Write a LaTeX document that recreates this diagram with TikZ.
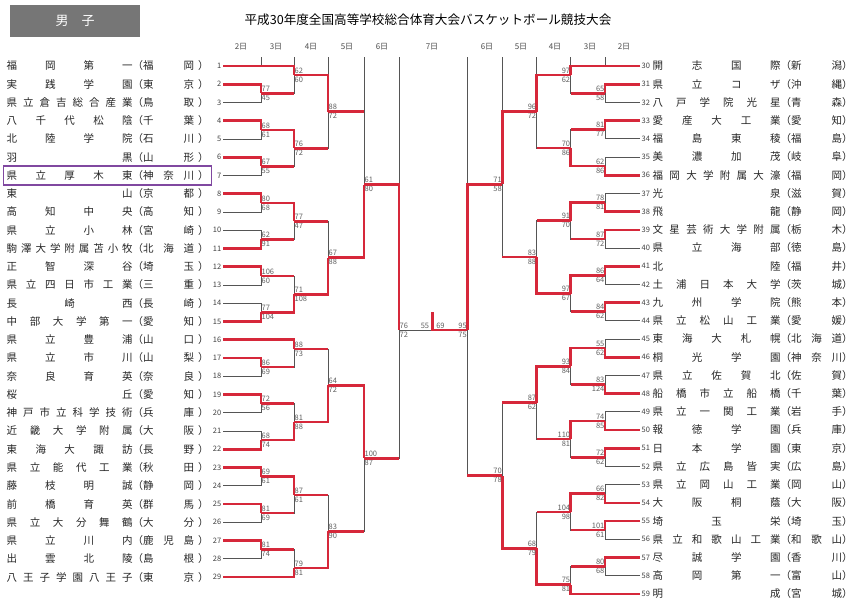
\documentclass[tikz,border=0pt]{standalone}
\usepackage{fontspec}
\setmainfont{Noto Sans CJK JP}
\usetikzlibrary{calc}
\definecolor{bred}{RGB}{214,40,58}
\definecolor{bgray}{RGB}{85,85,85}
\definecolor{sgray}{RGB}{95,95,95}
\definecolor{boxgray}{RGB}{118,118,118}
\definecolor{boxviolet}{RGB}{128,72,160}
\def\spreadx#1#2\endspread{#1\ifx\relax#2\relax\else\hfill\spreadx#2\endspread\fi}
\tikzset{
 gline/.style={draw=bgray, line width=0.8pt},
 rline/.style={draw=bred, line width=2.6pt},
 tname/.style={anchor=west, inner sep=0pt, font=\fontsize{10.5}{11}\selectfont, text=black!85},
 num/.style={inner sep=0pt, font=\fontsize{7.5}{8}\selectfont, text=black!75},
 score/.style={inner sep=0.4pt, font=\fontsize{7.5}{8}\selectfont, text=sgray},
 datel/.style={inner sep=0pt, font=\fontsize{8}{8}\selectfont, text=black!70},
}
\newcommand\lteam[4]{%
  \node[tname] (ln#1) at (6.5,#2) {\makebox[126pt]{\spreadx#3\endspread}（\makebox[51pt]{\spreadx#4\endspread}\hspace{4pt}）};
  \node[num, anchor=east] (lno#1) at (221.5,#2) {#1};
  \coordinate (t#1) at (223,#2);
}
\newcommand\rteam[4]{%
  \node[num, anchor=west] (rno#1) at (641.5,#2) {#1};
  \node[tname] (rn#1) at (652.5,#2) {\makebox[128pt]{\spreadx#3\endspread}（\makebox[51pt]{\spreadx#4\endspread}）};
  \coordinate (t#1) at (640,#2);
}
\newcommand\mt[9]{%
 \draw[gline] (#2) -- (#2 -| #1) -- (#3 -| #1) -- (#3);
 \ifnum#6=1
  \draw[rline] (#2) -- (#2 -| #1) -- (#1);
  \if m#5 \draw[rline] (#3) -- (#3 -| #1);\fi
 \else
  \draw[rline] (#3) -- (#3 -| #1) -- (#1);
  \if m#4 \draw[rline] (#2) -- (#2 -| #1);\fi
 \fi
 \if l#7
  \node[score, anchor=south west, yshift=1.2pt] (#1s1) at (#1) {#8};
  \node[score, anchor=north west, yshift=-1.2pt] (#1s2) at (#1) {#9};
 \else
  \node[score, anchor=south east, yshift=1.2pt] (#1s1) at (#1) {#8};
  \node[score, anchor=north east, yshift=-1.2pt] (#1s2) at (#1) {#9};
 \fi
}
\begin{document}
\begin{tikzpicture}[x=1pt,y=-1pt]
\useasboundingbox (0,0) rectangle (854,598);
\fill[white] (0,0) rectangle (854,598);
% header
\node[fill=boxgray, minimum width=130pt, minimum height=32pt, inner sep=0pt, text=white, font=\fontsize{13}{13}\selectfont] (sexbox) at (75,21) {男\hspace{1em}子};
\node[inner sep=0pt, font=\fontsize{12.6}{13}\selectfont] (title) at (428,20) {平成30年度全国高等学校総合体育大会バスケットボール競技大会};
\foreach \x/\t [count=\i] in {241/2日,276/3日,311/4日,347/5日,382/6日,432/7日,487/6日,521/5日,555/4日,590/3日,624/2日}
  \node[datel] (date\i) at (\x,47) {\t};
% teams left
\lteam{1}{66}{福岡第一}{福岡}
\lteam{2}{84.25}{実践学園}{東京}
\lteam{3}{102.5}{県立倉吉総合産業}{鳥取}
\lteam{4}{120.75}{八千代松陰}{千葉}
\lteam{5}{139}{北陸学院}{石川}
\lteam{6}{157.25}{羽黒}{山形}
\lteam{7}{175.5}{県立厚木東}{神奈川}
\lteam{8}{193.75}{東山}{京都}
\lteam{9}{212}{高知中央}{高知}
\lteam{10}{230.25}{県立小林}{宮崎}
\lteam{11}{248.5}{駒澤大学附属苫小牧}{北海道}
\lteam{12}{266.75}{正智深谷}{埼玉}
\lteam{13}{285}{県立四日市工業}{三重}
\lteam{14}{303.25}{長崎西}{長崎}
\lteam{15}{321.5}{中部大学第一}{愛知}
\lteam{16}{339.75}{県立豊浦}{山口}
\lteam{17}{358}{県立市川}{山梨}
\lteam{18}{376.25}{奈良育英}{奈良}
\lteam{19}{394.5}{桜丘}{愛知}
\lteam{20}{412.75}{神戸市立科学技術}{兵庫}
\lteam{21}{431}{近畿大学附属}{大阪}
\lteam{22}{449.25}{東海大諏訪}{長野}
\lteam{23}{467.5}{県立能代工業}{秋田}
\lteam{24}{485.75}{藤枝明誠}{静岡}
\lteam{25}{504}{前橋育英}{群馬}
\lteam{26}{522.25}{県立大分舞鶴}{大分}
\lteam{27}{540.5}{県立川内}{鹿児島}
\lteam{28}{558.75}{出雲北陵}{島根}
\lteam{29}{577}{八王子学園八王子}{東京}
% teams right
\rteam{30}{66}{開志国際}{新潟}
\rteam{31}{84.2}{県立コザ}{沖縄}
\rteam{32}{102.4}{八戸学院光星}{青森}
\rteam{33}{120.6}{愛産大工業}{愛知}
\rteam{34}{138.8}{福島東稜}{福島}
\rteam{35}{157}{美濃加茂}{岐阜}
\rteam{36}{175.2}{福岡大学附属大濠}{福岡}
\rteam{37}{193.4}{光泉}{滋賀}
\rteam{38}{211.6}{飛龍}{静岡}
\rteam{39}{229.8}{文星芸術大学附属}{栃木}
\rteam{40}{248}{県立海部}{徳島}
\rteam{41}{266.2}{北陸}{福井}
\rteam{42}{284.4}{土浦日本大学}{茨城}
\rteam{43}{302.6}{九州学院}{熊本}
\rteam{44}{320.8}{県立松山工業}{愛媛}
\rteam{45}{339}{東海大札幌}{北海道}
\rteam{46}{357.2}{桐光学園}{神奈川}
\rteam{47}{375.4}{県立佐賀北}{佐賀}
\rteam{48}{393.6}{船橋市立船橋}{千葉}
\rteam{49}{411.8}{県立一関工業}{岩手}
\rteam{50}{430}{報徳学園}{兵庫}
\rteam{51}{448.2}{日本学園}{東京}
\rteam{52}{466.4}{県立広島皆実}{広島}
\rteam{53}{484.6}{県立岡山工業}{岡山}
\rteam{54}{502.8}{大阪桐蔭}{大阪}
\rteam{55}{521}{埼玉栄}{埼玉}
\rteam{56}{539.2}{県立和歌山工業}{和歌山}
\rteam{57}{557.4}{尽誠学園}{香川}
\rteam{58}{575.6}{高岡第一}{富山}
\rteam{59}{593.8}{明成}{宮城}
% highlight box
\draw[boxviolet, line width=1.2pt] (3.5,166) rectangle (211.5,185);
% match points left
\coordinate (A23) at (261,93.4);
\coordinate (A45) at (261,129.9);
\coordinate (A67) at (261,166.4);
\coordinate (A89) at (261,202.9);
\coordinate (A1011) at (261,239.4);
\coordinate (A1213) at (261,275.9);
\coordinate (A1415) at (261,312.4);
\coordinate (A1718) at (261,367.1);
\coordinate (A1920) at (261,403.6);
\coordinate (A2122) at (261,440.1);
\coordinate (A2324) at (261,476.6);
\coordinate (A2526) at (261,513.1);
\coordinate (A2728) at (261,549.6);
\coordinate (B1) at (294,75.1);
\coordinate (B47) at (294,148.2);
\coordinate (B811) at (294,221.2);
\coordinate (B1215) at (294,294.2);
\coordinate (B16) at (294,348.9);
\coordinate (B1922) at (294,421.9);
\coordinate (B2326) at (294,494.9);
\coordinate (B29) at (294,567.9);
\coordinate (C17) at (328,111.7);
\coordinate (C815) at (328,257.7);
\coordinate (C1622) at (328,385.4);
\coordinate (C2329) at (328,531.4);
\coordinate (D115) at (364,184.7);
\coordinate (D1629) at (364,458.4);
\coordinate (EL) at (399,330);
% match points right
\coordinate (A3132) at (605,93.3);
\coordinate (A3334) at (605,129.7);
\coordinate (A3536) at (605,166.1);
\coordinate (A3738) at (605,202.5);
\coordinate (A3940) at (605,238.9);
\coordinate (A4142) at (605,275.3);
\coordinate (A4344) at (605,311.7);
\coordinate (A4546) at (605,348.1);
\coordinate (A4748) at (605,384.5);
\coordinate (A4950) at (605,420.9);
\coordinate (A5152) at (605,457.3);
\coordinate (A5354) at (605,493.7);
\coordinate (A5556) at (605,530.1);
\coordinate (A5758) at (605,566.5);
\coordinate (B30) at (570.7,75.1);
\coordinate (B3336) at (570.7,147.9);
\coordinate (B3740) at (570.7,220.7);
\coordinate (B4144) at (570.7,293.5);
\coordinate (B4548) at (570.7,366.3);
\coordinate (B4952) at (570.7,439.1);
\coordinate (B5356) at (570.7,511.9);
\coordinate (B59) at (570.7,584.7);
\coordinate (C3036) at (536.7,111.5);
\coordinate (C3744) at (536.7,257.1);
\coordinate (C4552) at (536.7,402.7);
\coordinate (C5359) at (536.7,548.3);
\coordinate (D3044) at (502.3,184.3);
\coordinate (D4559) at (502.3,475.5);
\coordinate (ER) at (467.3,330);
\coordinate (F) at (432.7,330);
\coordinate (Fup) at (432.7,312);
% ticks
\foreach \n/\x in {k2l/261,k3l/294,k4l/328,k5l/364,k6l/399,k2r/605,k3r/570.7,k4r/536.7,k5r/502.3,k6r/467.3}
  \coordinate (\n) at (\x,57);
\draw[gline] (k2l) -- (k2l |- t1);
\draw[gline] (k3l) -- (k3l |- t1);
\draw[gline] (k4l) -- (k4l |- B1);
\draw[gline] (k5l) -- (k5l |- C17);
\draw[gline] (k6l) -- (k6l |- D115);
\draw[gline] (k2r) -- (k2r |- t30);
\draw[gline] (k3r) -- (k3r |- t30);
\draw[gline] (k4r) -- (k4r |- B30);
\draw[gline] (k5r) -- (k5r |- C3036);
\draw[gline] (k6r) -- (k6r |- D3044);
% left bracket
\mt{A23}{t2}{t3}{t}{t}{1}{l}{77}{45}
\mt{A45}{t4}{t5}{t}{t}{1}{l}{68}{61}
\mt{A67}{t6}{t7}{t}{t}{1}{l}{67}{55}
\mt{A89}{t8}{t9}{t}{t}{1}{l}{80}{68}
\mt{A1011}{t10}{t11}{t}{t}{2}{l}{62}{91}
\mt{A1213}{t12}{t13}{t}{t}{1}{l}{106}{60}
\mt{A1415}{t14}{t15}{t}{t}{2}{l}{77}{104}
\mt{A1718}{t17}{t18}{t}{t}{1}{l}{86}{69}
\mt{A1920}{t19}{t20}{t}{t}{1}{l}{72}{56}
\mt{A2122}{t21}{t22}{t}{t}{2}{l}{68}{74}
\mt{A2324}{t23}{t24}{t}{t}{1}{l}{69}{61}
\mt{A2526}{t25}{t26}{t}{t}{1}{l}{81}{69}
\mt{A2728}{t27}{t28}{t}{t}{1}{l}{81}{74}
\mt{B1}{t1}{A23}{t}{m}{1}{l}{62}{60}
\mt{B47}{A45}{A67}{m}{m}{1}{l}{76}{72}
\mt{B811}{A89}{A1011}{m}{m}{1}{l}{77}{47}
\mt{B1215}{A1213}{A1415}{m}{m}{2}{l}{71}{108}
\mt{B16}{t16}{A1718}{t}{m}{1}{l}{88}{73}
\mt{B1922}{A1920}{A2122}{m}{m}{2}{l}{81}{88}
\mt{B2326}{A2324}{A2526}{m}{m}{1}{l}{87}{61}
\mt{B29}{A2728}{t29}{m}{t}{2}{l}{79}{81}
\mt{C17}{B1}{B47}{m}{m}{1}{l}{88}{72}
\mt{C815}{B811}{B1215}{m}{m}{2}{l}{67}{88}
\mt{C1622}{B16}{B1922}{m}{m}{2}{l}{64}{72}
\mt{C2329}{B2326}{B29}{m}{m}{2}{l}{83}{90}
\mt{D115}{C17}{C815}{m}{m}{2}{l}{61}{80}
\mt{D1629}{C1622}{C2329}{m}{m}{1}{l}{100}{87}
\mt{EL}{D115}{D1629}{m}{m}{1}{l}{76}{72}
% right bracket
\mt{A3132}{t31}{t32}{t}{t}{1}{r}{65}{58}
\mt{A3334}{t33}{t34}{t}{t}{1}{r}{81}{77}
\mt{A3536}{t35}{t36}{t}{t}{2}{r}{62}{86}
\mt{A3738}{t37}{t38}{t}{t}{2}{r}{78}{81}
\mt{A3940}{t39}{t40}{t}{t}{1}{r}{87}{72}
\mt{A4142}{t41}{t42}{t}{t}{1}{r}{86}{64}
\mt{A4344}{t43}{t44}{t}{t}{1}{r}{84}{62}
\mt{A4546}{t45}{t46}{t}{t}{2}{r}{55}{62}
\mt{A4748}{t47}{t48}{t}{t}{2}{r}{83}{124}
\mt{A4950}{t49}{t50}{t}{t}{2}{r}{74}{85}
\mt{A5152}{t51}{t52}{t}{t}{1}{r}{72}{62}
\mt{A5354}{t53}{t54}{t}{t}{2}{r}{66}{82}
\mt{A5556}{t55}{t56}{t}{t}{1}{r}{101}{61}
\mt{A5758}{t57}{t58}{t}{t}{1}{r}{80}{68}
\mt{B30}{t30}{A3132}{t}{m}{1}{r}{97}{62}
\mt{B3336}{A3334}{A3536}{m}{m}{2}{r}{70}{86}
\mt{B3740}{A3738}{A3940}{m}{m}{1}{r}{91}{70}
\mt{B4144}{A4142}{A4344}{m}{m}{1}{r}{97}{67}
\mt{B4548}{A4546}{A4748}{m}{m}{1}{r}{93}{84}
\mt{B4952}{A4950}{A5152}{m}{m}{1}{r}{110}{81}
\mt{B5356}{A5354}{A5556}{m}{m}{1}{r}{104}{98}
\mt{B59}{A5758}{t59}{m}{t}{2}{r}{75}{81}
\mt{C3036}{B30}{B3336}{m}{m}{1}{r}{96}{72}
\mt{C3744}{B3740}{B4144}{m}{m}{2}{r}{83}{88}
\mt{C4552}{B4548}{B4952}{m}{m}{1}{r}{87}{62}
\mt{C5359}{B5356}{B59}{m}{m}{2}{r}{68}{79}
\mt{D3044}{C3036}{C3744}{m}{m}{1}{r}{71}{58}
\mt{D4559}{C4552}{C5359}{m}{m}{2}{r}{70}{78}
\mt{ER}{D3044}{D4559}{m}{m}{1}{r}{95}{75}
% final
\draw[gline] (EL) -- (F);
\draw[gline] (ER) -- (F);
\draw[rline] (ER) -- (F) -- (Fup);
\node[score, anchor=south east, xshift=-3pt, yshift=1.2pt] (fin1) at (F) {55};
\node[score, anchor=south west, xshift=3pt, yshift=1.2pt] (fin2) at (F) {69};
\end{tikzpicture}
\end{document}
